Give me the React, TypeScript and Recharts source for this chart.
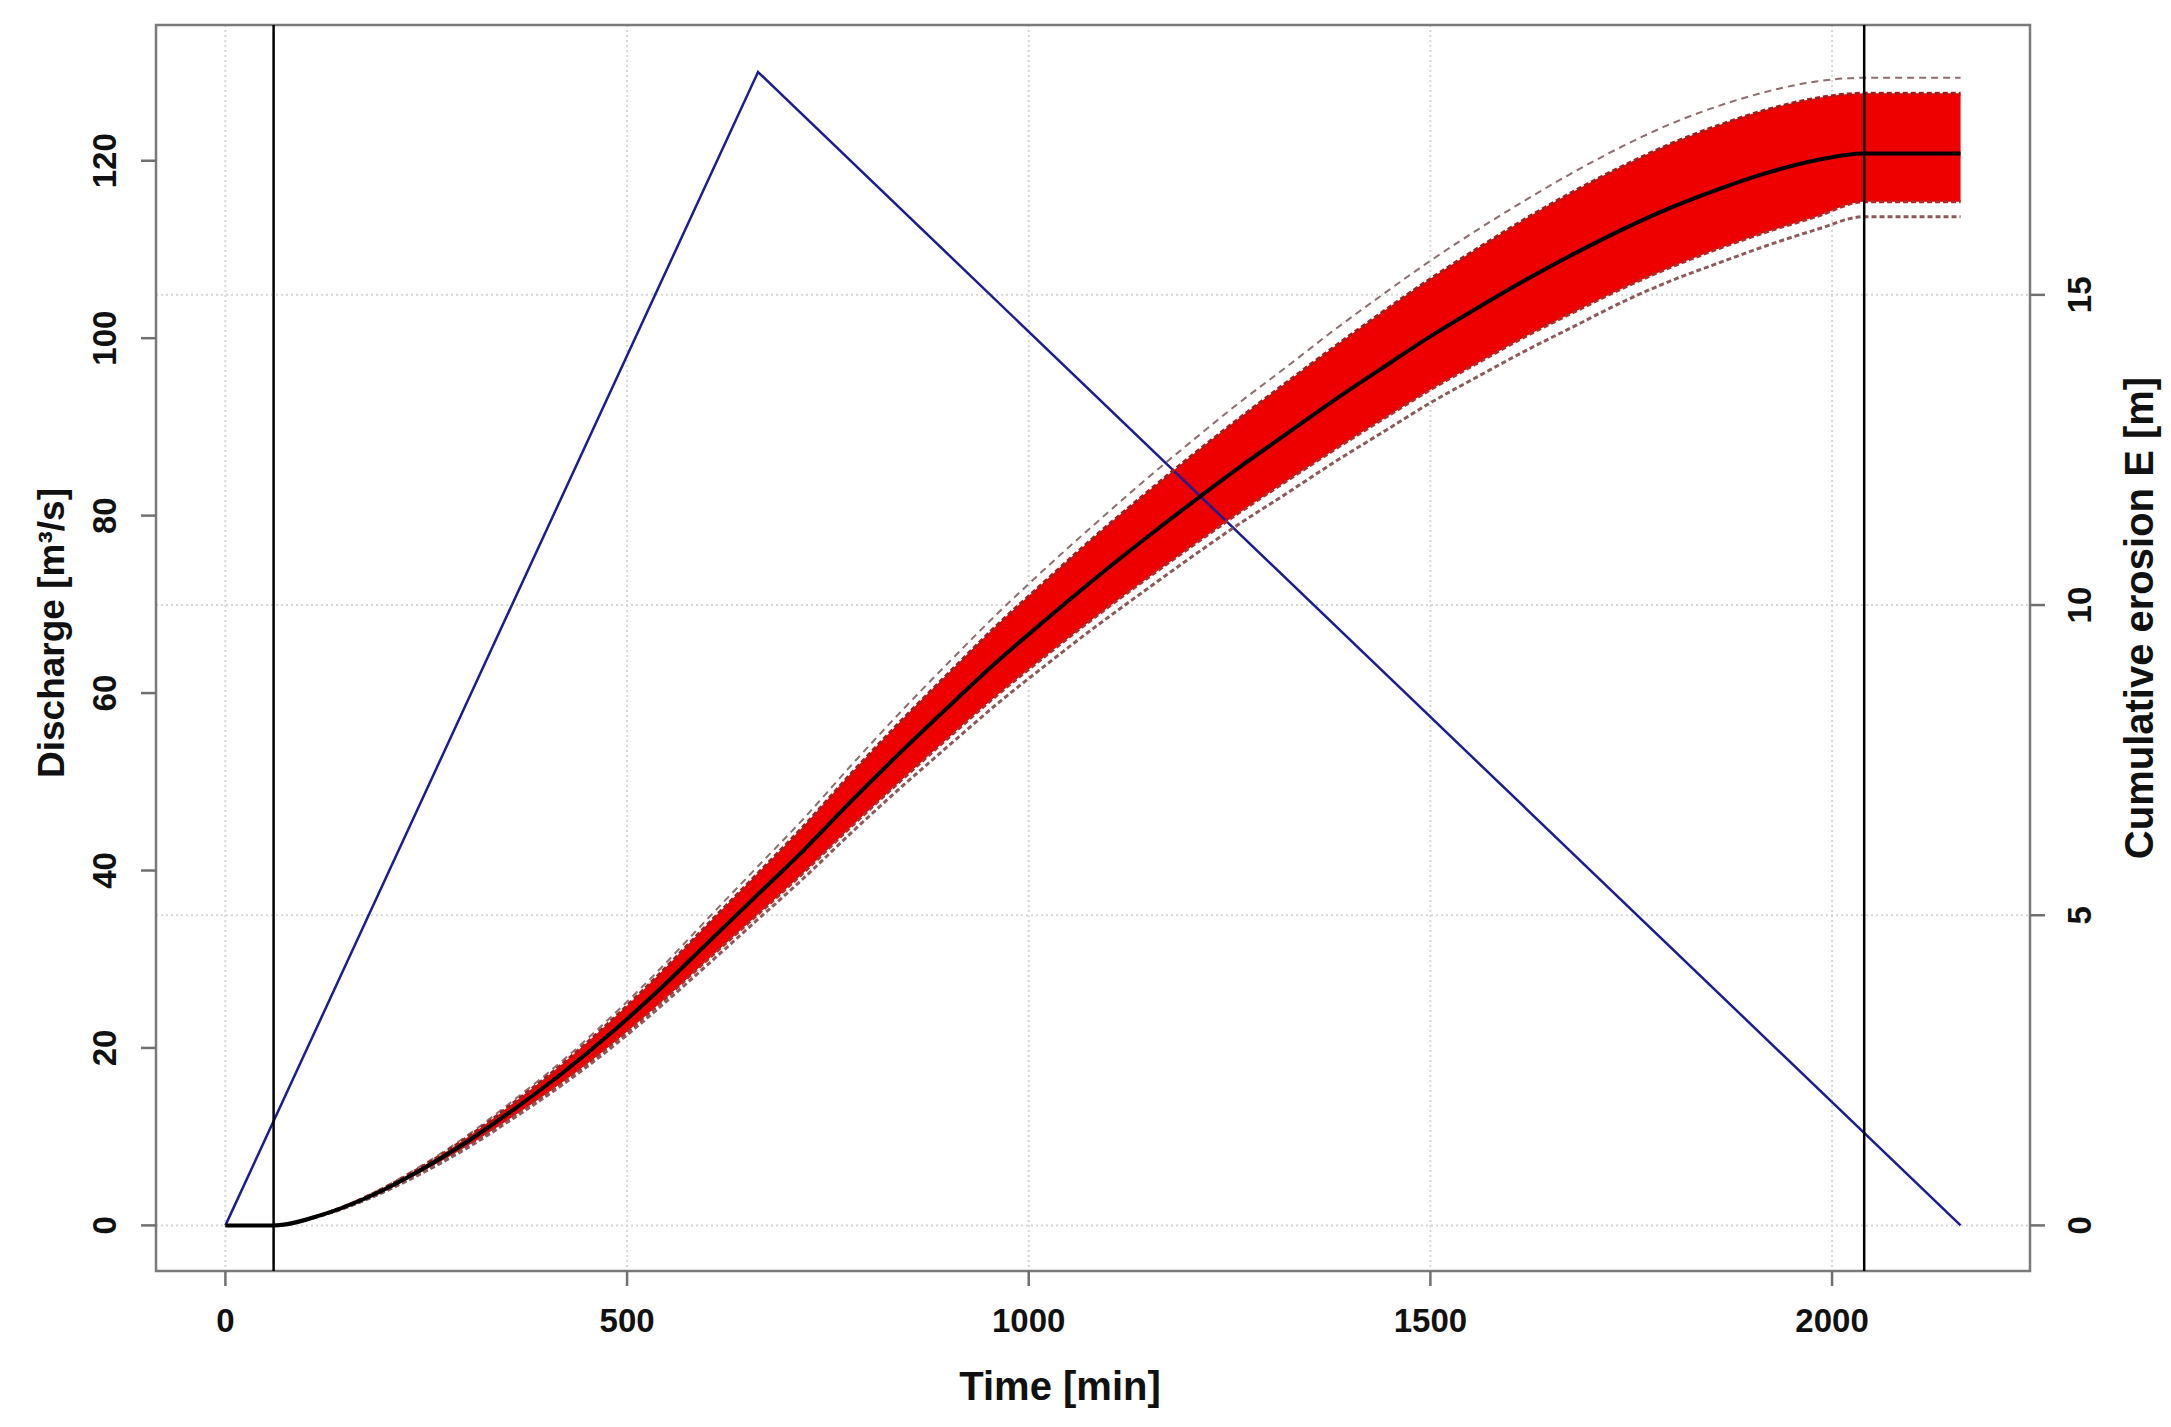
import React from "react";
import {
  ComposedChart,
  Line,
  Area,
  XAxis,
  YAxis,
  CartesianGrid,
  ReferenceLine,
  ReferenceArea,
} from "recharts";

// ---- data ----
const times = [
  0, 60, 120, 180, 240, 300, 360, 420, 480, 540, 600, 660, 720, 780, 840, 900, 960, 1020,
  1080, 1140, 1200, 1260, 1320, 1380, 1440, 1500, 1560, 1620, 1680, 1740, 1800, 1860, 1920,
  1980, 2040, 2100, 2160,
];
const meanErosion = [
  0, 0, 0.17, 0.47, 0.87, 1.34, 1.88, 2.46, 3.1, 3.8, 4.55, 5.3, 6.05, 6.85, 7.62, 8.36,
  9.08, 9.75, 10.4, 11.02, 11.62, 12.2, 12.75, 13.3, 13.82, 14.33, 14.8, 15.25, 15.67, 16.06,
  16.41, 16.71, 16.97, 17.17, 17.28, 17.28, 17.28,
];
const upperBand = [
  0, 0, 0.175, 0.49, 0.91, 1.41, 1.99, 2.61, 3.3, 4.05, 4.85, 5.64, 6.44, 7.3, 8.12, 8.9,
  9.67, 10.38, 11.08, 11.74, 12.38, 12.99, 13.58, 14.16, 14.72, 15.26, 15.76, 16.24, 16.68,
  17.08, 17.44, 17.74, 17.99, 18.17, 18.25, 18.25, 18.25,
];
const lowerBand = [
  0, 0, 0.165, 0.45, 0.83, 1.27, 1.77, 2.31, 2.91, 3.57, 4.28, 4.98, 5.69, 6.44, 7.16, 7.86,
  8.54, 9.17, 9.78, 10.36, 10.92, 11.47, 11.99, 12.5, 12.99, 13.47, 13.91, 14.34, 14.73,
  15.11, 15.45, 15.75, 16.02, 16.26, 16.5, 16.5, 16.5,
];
const upperOutlier = [
  0, 0, 0.18, 0.5, 0.93, 1.44, 2.03, 2.66, 3.36, 4.12, 4.94, 5.75, 6.56, 7.43, 8.27, 9.07,
  9.85, 10.58, 11.28, 11.96, 12.61, 13.24, 13.83, 14.43, 15.0, 15.55, 16.06, 16.54, 16.99,
  17.4, 17.76, 18.05, 18.28, 18.44, 18.5, 18.5, 18.5,
];
const lowerOutlier = [
  0, 0, 0.16, 0.44, 0.81, 1.24, 1.74, 2.27, 2.86, 3.51, 4.2, 4.9, 5.6, 6.34, 7.05, 7.73,
  8.4, 9.02, 9.62, 10.19, 10.75, 11.29, 11.79, 12.3, 12.78, 13.26, 13.69, 14.11, 14.5, 14.89,
  15.23, 15.52, 15.8, 16.05, 16.26, 16.26, 16.26,
];
const dischargeTimes = [0, 663, 2160];
const dischargeValues = [0, 130, 0];
const eventTimes = [60, 2040];

const xTicks = [0, 500, 1000, 1500, 2000];
const leftTicks = [0, 20, 40, 60, 80, 100, 120];
const rightTicks = [0, 5, 10, 15];

const xDomain = [-86.4, 2246.4];
const leftDomain = [-5.14, 135.3];
const rightDomain = [-0.735, 19.35];

const erosionData = times.map((t, i) => ({
  t,
  mean: meanErosion[i],
  hi: upperBand[i],
  lo: lowerBand[i],
  hiOut: upperOutlier[i],
  loOut: lowerOutlier[i],
}));
const dischargeData = dischargeTimes.map((t, i) => ({ t, q: dischargeValues[i] }));

const FONT = '"Liberation Sans", Arial, Helvetica, sans-serif';

const XTick = (props: any) => {
  const { x, payload } = props;
  return (
    <text
      x={x}
      y={1320}
      textAnchor="middle"
      dominantBaseline="central"
      fontSize={33}
      fontWeight="bold"
      fontFamily={FONT}
      fill="#111"
    >
      {payload.value}
    </text>
  );
};

const makeYTick = (cx: number) => (props: any) => {
  const { y, payload } = props;
  return (
    <text
      x={cx}
      y={y}
      transform={`rotate(-90, ${cx}, ${y})`}
      textAnchor="middle"
      dominantBaseline="central"
      fontSize={33}
      fontWeight="bold"
      fontFamily={FONT}
      fill="#111"
    >
      {payload.value}
    </text>
  );
};
const LeftTick = makeYTick(105);
const RightTick = makeYTick(2080);

const titleStyle = (
  cx: number,
  cy: number,
  rotate: boolean,
  size: number
): React.CSSProperties => ({
  position: "absolute",
  left: cx,
  top: cy,
  transform: `translate(-50%, -50%)${rotate ? " rotate(-90deg)" : ""}`,
  whiteSpace: "nowrap",
  fontFamily: FONT,
  fontWeight: "bold",
  fontSize: size,
  lineHeight: 1,
  color: "#111",
});

export default function App() {
  return (
    <div
      style={{
        position: "absolute",
        left: 0,
        top: 0,
        width: 2171,
        height: 1427,
        background: "#fff",
      }}
    >
      <ComposedChart
        width={2171}
        height={1427}
        data={erosionData}
        margin={{ top: 25, right: 0, bottom: 0, left: 0 }}
      >
        <CartesianGrid
          yAxisId="right"
          stroke="#d6d6d6"
          strokeWidth={2}
          strokeDasharray="2 3"
        />
        <XAxis
          dataKey="t"
          type="number"
          domain={xDomain}
          ticks={xTicks}
          interval={0}
          allowDataOverflow
          height={156}
          axisLine={false}
          tickSize={15}
          tickLine={{ stroke: "#707070", strokeWidth: 2.5 }}
          tick={<XTick />}
        />
        <YAxis
          yAxisId="left"
          type="number"
          domain={leftDomain}
          ticks={leftTicks}
          interval={0}
          allowDataOverflow
          width={156}
          axisLine={false}
          tickSize={15}
          tickLine={{ stroke: "#707070", strokeWidth: 2.5 }}
          tick={<LeftTick />}
        />
        <YAxis
          yAxisId="right"
          orientation="right"
          type="number"
          domain={rightDomain}
          ticks={rightTicks}
          interval={0}
          allowDataOverflow
          width={141}
          axisLine={false}
          tickSize={15}
          tickLine={{ stroke: "#707070", strokeWidth: 2.5 }}
          tick={<RightTick />}
        />
        <Line
          yAxisId="left"
          data={dischargeData}
          dataKey="q"
          type="linear"
          stroke="#1c1c94"
          strokeWidth={2.5}
          dot={false}
          activeDot={false}
          isAnimationActive={false}
        />
        <Area
          yAxisId="right"
          dataKey={(d: any) => [d.lo, d.hi]}
          type="monotone"
          stroke="none"
          fill="#ee0000"
          fillOpacity={1}
          isAnimationActive={false}
        />
        <Line
          yAxisId="right"
          dataKey="hiOut"
          type="monotone"
          stroke="#8c6e6e"
          strokeWidth={2}
          strokeDasharray="7 5"
          dot={false}
          activeDot={false}
          isAnimationActive={false}
        />
        <Line
          yAxisId="right"
          dataKey="hi"
          type="monotone"
          stroke="#9c2020"
          strokeWidth={3}
          strokeDasharray="5 3"
          dot={false}
          activeDot={false}
          isAnimationActive={false}
        />
        <Line
          yAxisId="right"
          dataKey="lo"
          type="monotone"
          stroke="#b02a2a"
          strokeWidth={3}
          strokeDasharray="5 3"
          dot={false}
          activeDot={false}
          isAnimationActive={false}
        />
        <Line
          yAxisId="right"
          dataKey="loOut"
          type="monotone"
          stroke="#8c5a5a"
          strokeWidth={3}
          strokeDasharray="5 3"
          dot={false}
          activeDot={false}
          isAnimationActive={false}
        />
        <Line
          yAxisId="right"
          dataKey="mean"
          type="monotone"
          stroke="#000"
          strokeWidth={4}
          dot={false}
          activeDot={false}
          isAnimationActive={false}
        />
        {eventTimes.map((t) => (
          <ReferenceLine
            key={t}
            yAxisId="left"
            x={t}
            stroke="#000"
            strokeWidth={2.5}
          />
        ))}
        <ReferenceArea
          yAxisId="left"
          x1={xDomain[0]}
          x2={xDomain[1]}
          y1={leftDomain[0]}
          y2={leftDomain[1]}
          fill="none"
          fillOpacity={0}
          stroke="#7a7a7a"
          strokeWidth={2.5}
          ifOverflow="visible"
        />
      </ComposedChart>
      <div style={titleStyle(1060, 1386, false, 40)}>Time [min]</div>
      <div style={titleStyle(51, 633, true, 37)}>Discharge [m³/s]</div>
      <div style={titleStyle(2139, 618, true, 40)}>Cumulative erosion E [m]</div>
    </div>
  );
}
